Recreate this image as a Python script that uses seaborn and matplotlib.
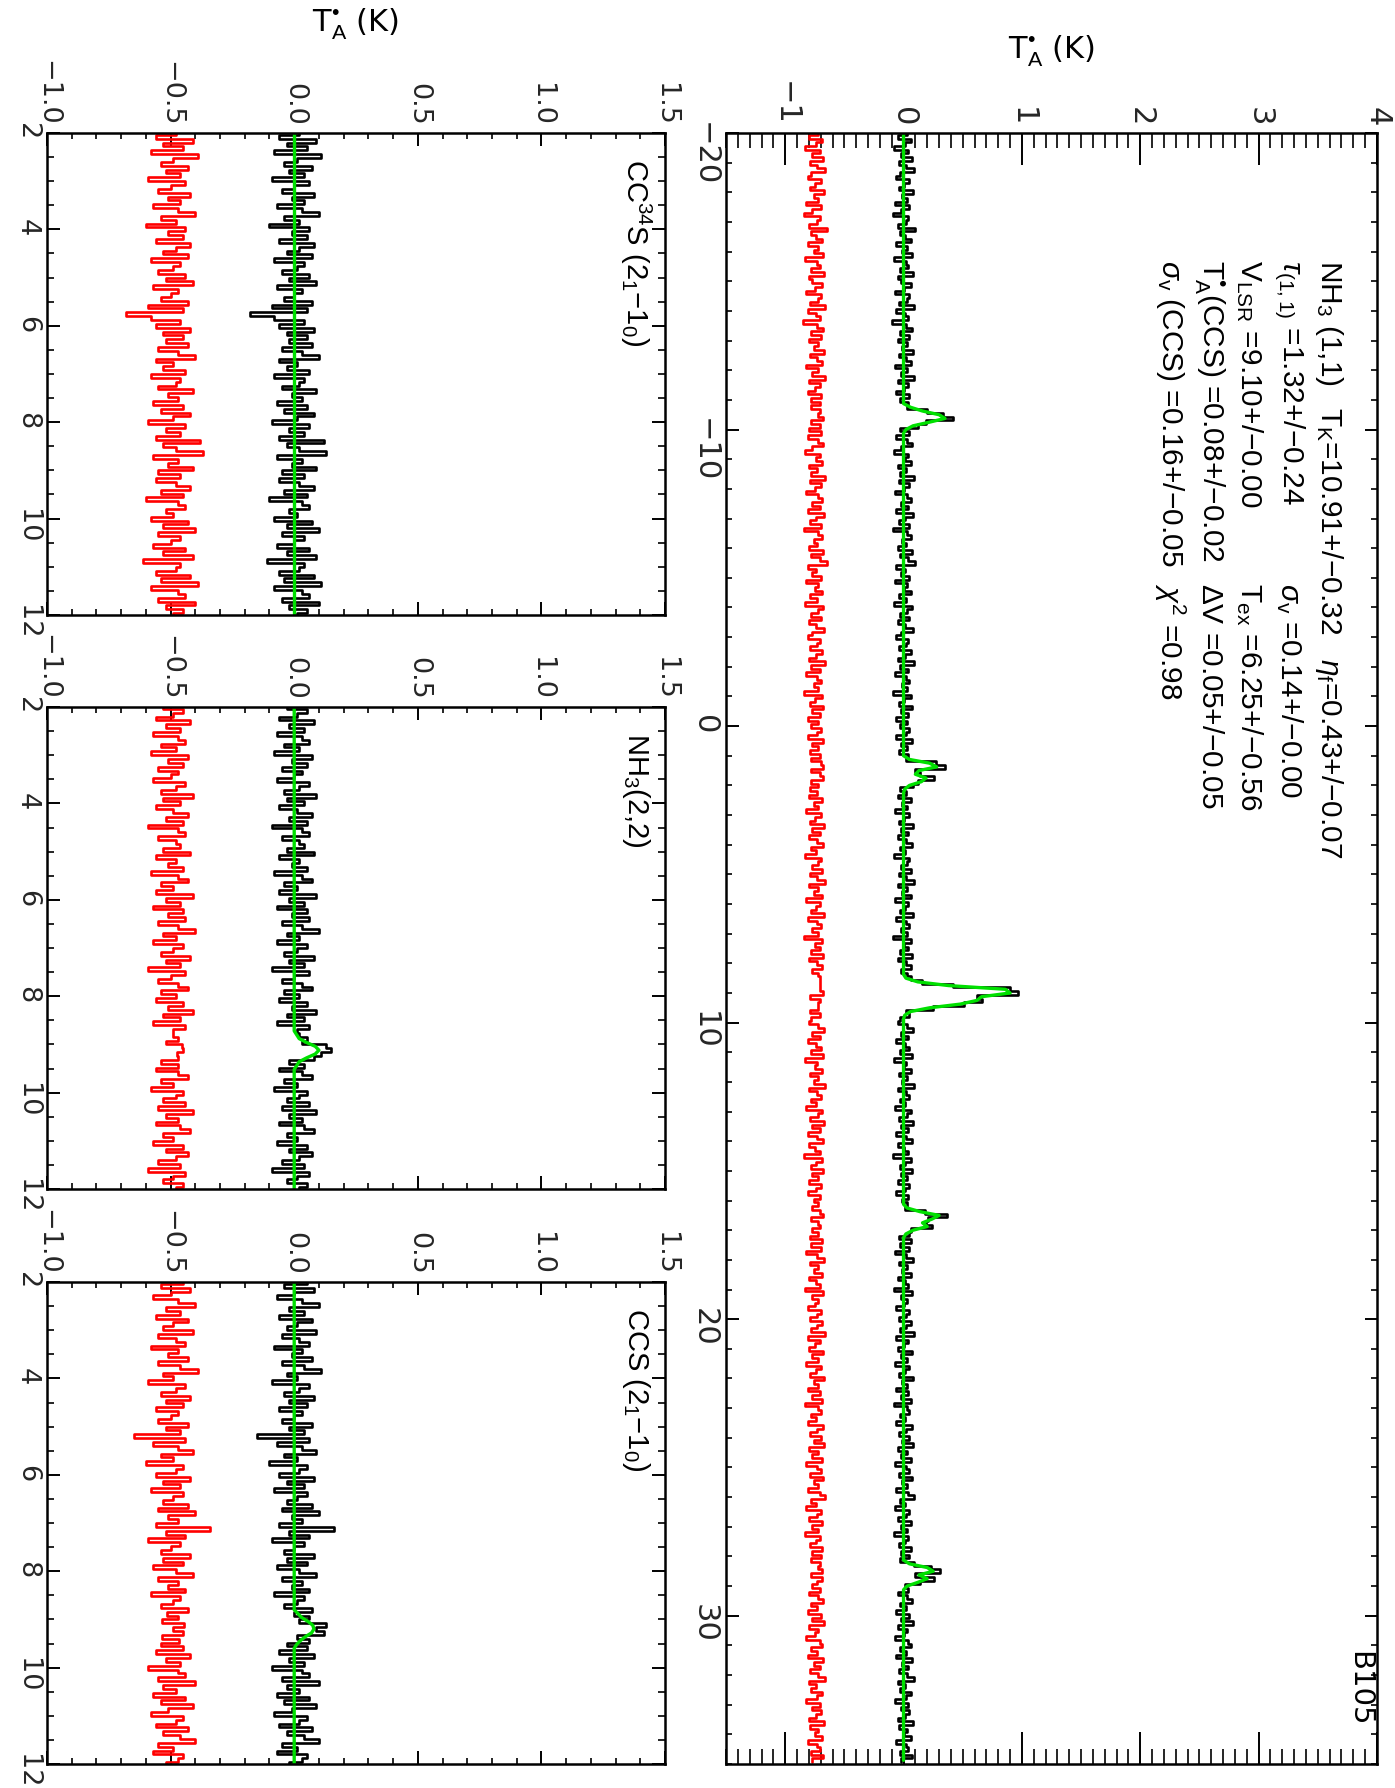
import numpy as np
import matplotlib
matplotlib.use("Agg")
import matplotlib.pyplot as plt
from matplotlib.ticker import MultipleLocator
import seaborn as sns

# ---------------- data ----------------
# NH3 (1,1) spectrum: channel grid and observed T_A* (K)
nh11_v_start = -20.0
nh11_dv = 0.125
nh11_obs_a = [
    0.03, -0.05, 0.06, 0.01, -0.08, 0.04, -0.02, 0.07, -0.04, 0.02, 0.09, -0.03, -0.06, 0.05, 0.00, -0.04, 0.08, -0.01, 0.03, -0.07,
    0.05, -0.02, -0.09, 0.04, 0.02, -0.05, 0.10, -0.03, 0.01, 0.06, -0.06, 0.03, -0.01, 0.07, -0.08, 0.02, 0.04, -0.03, 0.08, -0.05,
    -0.02, 0.06, 0.00, -0.07, 0.05, 0.03, -0.04, 0.09, -0.06, 0.01, 0.04, -0.10, 0.02, 0.07, -0.03, 0.05, -0.05, 0.03, -0.01, 0.08,
    -0.04, 0.02, 0.06, -0.07, 0.03, -0.02, 0.09, -0.05, 0.04, 0.00, -0.06, 0.05, -0.03, 0.04, 0.03, 0.20, 0.33, 0.42, 0.19, 0.12,
    -0.03, 0.05, -0.06, 0.03, 0.07, -0.02, -0.08, 0.04, 0.01, 0.06, -0.05, 0.02, -0.03, 0.09, -0.04, 0.05, 0.00, -0.07, 0.03, 0.06,
    -0.02, 0.04, -0.06, 0.08, 0.01, -0.04, 0.05, -0.09, 0.03, 0.06, -0.01, 0.02, -0.05, 0.07, -0.03, 0.04, 0.10, -0.06, 0.01, -0.02,
]
nh11_obs_b = [
    0.05, -0.07, 0.03, 0.00, 0.06, -0.04, 0.02, -0.08, 0.07, 0.03, -0.03, 0.05, -0.05, 0.01, 0.08, -0.02, -0.06, 0.04, 0.02, -0.04,
    0.06, 0.01, -0.05, 0.09, -0.03, 0.04, -0.07, 0.02, 0.05, -0.01, 0.03, -0.09, 0.06, 0.00, -0.04, 0.07, -0.02, 0.04, -0.06, 0.03,
    -0.03, 0.05, 0.02, -0.06, 0.07, -0.02, 0.03, -0.04, 0.04, 0.02, 0.27, 0.35, 0.10, 0.14, 0.26, 0.12, 0.08, -0.03, 0.02, -0.05,
    0.06, -0.01, 0.03, -0.07, 0.05, 0.00, -0.04, 0.08, -0.02, 0.04, -0.05, 0.02, 0.07, -0.03, 0.01, -0.08, 0.05, 0.03, -0.02, 0.06,
    -0.04, 0.02, 0.09, -0.05, 0.03, -0.01, 0.06, -0.07, 0.04, 0.01, -0.03, 0.08, -0.06, 0.02, 0.05, -0.02, 0.03, -0.09, 0.06, 0.00,
]
nh11_obs_c = [
    0.04, -0.03, 0.07, -0.05, 0.02, 0.06, -0.02, 0.03, 0.06, 0.16, 0.42, 0.90, 0.97, 0.62, 0.66, 0.51, 0.25, 0.02, 0.05, -0.03,
    -0.05, 0.03, 0.08, -0.02, 0.04, -0.06, 0.01, 0.05, -0.03, 0.07, -0.08, 0.02, 0.00, 0.06, -0.04, 0.03, -0.01, 0.09, -0.05, 0.02,
    0.05, -0.03, 0.01, -0.07, 0.06, 0.03, -0.04, 0.08, -0.02, 0.04, -0.06, 0.02, 0.07, -0.05, 0.00, 0.04, -0.09, 0.06, 0.01, -0.03,
    0.07, -0.02, 0.03, -0.05, 0.05, 0.01, -0.06, 0.04, -0.01, 0.03, 0.01, 0.18, 0.37, 0.21, 0.19, 0.24, 0.06, 0.05, -0.04, 0.06,
    -0.03, 0.05, -0.07, 0.02, 0.08, -0.04, 0.03, -0.01, 0.06, -0.05, 0.01, 0.04, -0.08, 0.07, -0.02, 0.03, 0.00, -0.06, 0.05, 0.02,
    -0.04, 0.06, 0.02, -0.03, 0.09, -0.06, 0.04, 0.00, -0.05, 0.07, -0.02, 0.03, -0.07, 0.05, 0.01, -0.04, 0.08, -0.01, 0.03, -0.06,
]
nh11_obs_d = [
    0.04, -0.02, 0.06, -0.08, 0.03, 0.05, -0.03, 0.01, -0.06, 0.07, 0.02, -0.04, 0.05, -0.01, 0.08, -0.05, 0.03, -0.02, 0.06, -0.07,
    0.02, 0.05, -0.04, 0.07, -0.01, 0.03, -0.06, 0.04, 0.09, -0.03, 0.01, -0.07, 0.05, 0.02, -0.05, 0.06, -0.02, 0.03, -0.08, 0.04,
    0.01, -0.04, 0.06, -0.02, 0.05, -0.03, 0.09, 0.23, 0.31, 0.10, 0.26, 0.14, 0.01, 0.04, -0.05, 0.03, 0.07, -0.03, 0.02, -0.06,
    0.05, -0.02, 0.08, -0.05, 0.03, 0.00, -0.07, 0.04, 0.06, -0.03, 0.02, -0.06, 0.07, -0.01, 0.04, -0.04, 0.03, 0.09, -0.05, 0.01,
    -0.03, 0.06, 0.02, -0.07, 0.04, -0.02, 0.05, 0.01, -0.05, 0.08, -0.04, 0.03, 0.00, 0.06, -0.06, 0.02, 0.04, -0.03, 0.07, -0.02,
]
# hyperfine fit (green), given channel by channel where it is non-zero
nh11_fit_starts = [-10.875, 1.0, 8.375, 16.125, 28.125]
nh11_fit_outer1 = [0.00, 0.06, 0.16, 0.30, 0.35, 0.22, 0.08, 0.02, 0.00]
nh11_fit_inner1 = [0.00, 0.05, 0.22, 0.28, 0.13, 0.10, 0.19, 0.15, 0.05, 0.01, 0.00]
nh11_fit_main = [0.00, 0.02, 0.12, 0.38, 0.86, 0.90, 0.66, 0.62, 0.48, 0.22, 0.06, 0.01, 0.00]
nh11_fit_inner2 = [0.00, 0.03, 0.14, 0.30, 0.24, 0.16, 0.20, 0.08, 0.02, 0.00]
nh11_fit_outer2 = [0.00, 0.05, 0.20, 0.25, 0.13, 0.20, 0.12, 0.03, 0.00]
nh11_resid_offset = -0.75

# small panels: common channel grid
small_v_start = 2.0
small_dv = 0.08
small_resid_offset = -0.5

cc34s_obs = [
    0.02, -0.06, 0.09, -0.03, 0.05, -0.08, 0.11, 0.01, -0.04, 0.07, -0.02, 0.04, -0.09, 0.06, 0.00, -0.05, 0.08, -0.01,
    0.04, -0.07, 0.03, 0.10, -0.04, 0.02, -0.10, 0.06, -0.01, 0.05, -0.06, 0.08, 0.02, -0.03, 0.07, -0.08, 0.04, 0.01,
    -0.05, 0.06, -0.02, 0.09, -0.07, 0.03, 0.00, -0.04, 0.07, -0.09, 0.05, -0.18, -0.08, 0.04, -0.06, 0.08, -0.03, 0.05,
    -0.02, 0.07, -0.05, 0.03, 0.10, -0.06, 0.01, -0.03, 0.06, -0.08, 0.04, 0.02, -0.05, 0.09, -0.01, 0.03, -0.07, 0.05,
    -0.04, 0.08, 0.01, -0.09, 0.06, -0.02, 0.04, -0.06, 0.12, -0.03, 0.02, 0.13, -0.07, 0.03, -0.01, 0.09, -0.05, 0.04,
    -0.06, 0.02, 0.08, -0.04, 0.05, -0.10, 0.03, 0.06, -0.02, 0.01, -0.08, 0.07, -0.03, 0.10, -0.05, 0.04, 0.00, -0.07,
    0.06, -0.03, 0.09, -0.11, 0.04, 0.02, -0.06, 0.08, -0.04, 0.11, -0.08, 0.03, 0.06, -0.05, 0.10, -0.02, 0.05, 0.01,
]
cc34s_fit_start = None
cc34s_fit = []

nh22_obs = [
    -0.03, 0.05, 0.01, -0.06, 0.08, -0.02, 0.04, -0.07, 0.03, 0.06, -0.04, 0.02, -0.08, 0.07, -0.01, 0.05, -0.05, 0.03,
    0.00, -0.07, 0.06, 0.02, -0.04, 0.09, -0.03, 0.04, -0.06, 0.01, 0.07, -0.02, 0.05, -0.09, 0.03, 0.06, -0.05, 0.02,
    0.04, -0.03, 0.08, -0.06, 0.02, -0.01, 0.05, -0.08, 0.03, 0.07, -0.04, 0.01, -0.06, 0.09, -0.02, 0.04, -0.07, 0.05,
    -0.01, 0.06, -0.05, 0.03, 0.10, -0.03, 0.02, -0.07, 0.05, 0.01, -0.04, 0.08, -0.02, 0.04, -0.09, 0.06, 0.00, -0.05,
    0.03, 0.07, -0.04, 0.02, -0.06, 0.05, -0.01, 0.09, -0.03, 0.04, -0.07, 0.06, 0.01, 0.02, 0.05, 0.03, 0.13, 0.15,
    0.11, 0.08, -0.02, 0.04, -0.06, 0.03, 0.07, -0.04, 0.01, -0.08, 0.05, 0.02, -0.03, 0.06, -0.05, 0.09, -0.02, 0.03,
    -0.06, 0.04, 0.08, -0.03, 0.01, -0.07, 0.05, -0.02, 0.07, 0.02, -0.05, 0.04, -0.09, 0.06, 0.01, -0.03, 0.05, 0.02,
]
nh22_fit_start = 8.80
nh22_fit = [0.01, 0.02, 0.05, 0.085, 0.10, 0.085, 0.05, 0.02, 0.01]

ccs_obs = [
    0.05, -0.04, 0.08, 0.00, -0.07, 0.03, 0.10, -0.02, 0.04, -0.06, 0.07, 0.01, -0.03, 0.09, -0.05, 0.02, 0.06, -0.08,
    0.03, -0.01, 0.07, -0.05, 0.04, 0.11, -0.03, 0.01, -0.09, 0.06, 0.02, -0.04, 0.08, -0.02, 0.05, -0.06, 0.03, 0.00,
    -0.05, 0.07, -0.02, 0.04, -0.15, 0.06, -0.07, 0.03, 0.09, -0.04, 0.01, -0.10, 0.05, 0.02, -0.06, 0.08, -0.03, 0.04,
    -0.08, 0.05, 0.01, -0.03, 0.07, -0.05, 0.10, -0.01, 0.03, -0.06, 0.16, -0.02, 0.06, -0.09, 0.04, 0.00, -0.04, 0.08,
    -0.03, 0.05, -0.07, 0.02, 0.09, -0.05, 0.03, -0.01, 0.06, -0.08, 0.04, 0.01, -0.04, 0.07, 0.00, 0.06, 0.02, 0.13,
    0.09, 0.12, 0.01, 0.06, -0.03, 0.05, -0.06, 0.08, -0.02, 0.04, -0.09, 0.03, 0.06, -0.05, 0.10, -0.03, 0.02, -0.07,
    0.06, -0.04, 0.09, -0.01, -0.08, 0.05, 0.02, -0.06, 0.07, -0.03, 0.04, 0.10, -0.05, 0.01, -0.07, 0.05, 0.03, -0.02,
]
ccs_fit_start = 8.88
ccs_fit = [0.015, 0.03, 0.055, 0.075, 0.08, 0.07, 0.045, 0.025, 0.01]

small_labels = [r"CC$^{34}$S (2$_{1}$−1$_{0}$)", r"NH$_{3}$(2,2)", r"CCS (2$_{1}$−1$_{0}$)"]
fit_text_lines = [
    [r"NH$_{3}$ (1,1)", r"T$_{\rm K}$=10.91+/−0.32", r"$\eta_{\rm f}$=0.43+/−0.07"],
    [r"$\tau_{\rm (1,1)}$ =1.32+/−0.24", r"$\sigma_{\rm v}$ =0.14+/−0.00"],
    [r"V$_{\rm LSR}$ =9.10+/−0.00", r"T$_{\rm ex}$ =6.25+/−0.56"],
    [r"T$_{\rm A}^{\rm •}$(CCS) =0.08+/−0.02", r"$\Delta$V =0.05+/−0.05"],
    [r"$\sigma_{\rm v}$ (CCS) =0.16+/−0.05", r"$\chi^{2}$ =0.98"],
]
source_name = "B105"
y_label = r"T$_{\rm A}^{\rm •}$ (K)"

# ---------------- style ----------------
sns.set_theme(style="ticks")
plt.rcParams["font.family"] = ["DejaVu Sans"]
plt.rcParams["mathtext.fontset"] = "custom"
plt.rcParams["mathtext.rm"] = "Liberation Sans"
plt.rcParams["mathtext.it"] = "Liberation Sans:italic"
plt.rcParams["mathtext.bf"] = "Liberation Sans:bold"
plt.rcParams["axes.linewidth"] = 1.8
plt.rcParams["axes.edgecolor"] = "black"

W, H = 1395, 1788
fig = plt.figure(figsize=(W / 100, H / 100), dpi=100)
fig.patch.set_facecolor("white")


def add_axes_px(left, top, right, bottom):
    return fig.add_axes([left / W, 1 - bottom / H, (right - left) / W, (bottom - top) / H])


def build_fit(n, v_start, dv, starts, pieces):
    fit = np.zeros(n)
    for s, vals in zip(starts, pieces):
        i0 = int(round((s - v_start) / dv))
        fit[i0:i0 + len(vals)] = vals
    return fit


def draw_spectrum(ax, v_start, dv, obs, fit, offset):
    obs = np.asarray(obs, float)
    v = v_start + dv * np.arange(len(obs))
    v_edges = np.column_stack([v - dv / 2, v + dv / 2]).ravel()
    resid = obs - fit + offset
    sns.lineplot(x=np.repeat(obs, 2), y=v_edges, orient="y", sort=False, estimator=None,
                 errorbar=None, color="black", linewidth=1.9, ax=ax)
    sns.lineplot(x=np.repeat(resid, 2), y=v_edges, orient="y", sort=False, estimator=None,
                 errorbar=None, color="#ff0000", linewidth=1.9, ax=ax)
    sns.lineplot(x=fit, y=v, orient="y", sort=False, estimator=None,
                 errorbar=None, color="#00e000", linewidth=2.4, ax=ax)
    ax.set_xlabel("")
    ax.set_ylabel("")


def style_axes(ax, xmaj, xmin, ymaj, ymin, xlen, ylen, lsize):
    ax.xaxis.set_major_locator(MultipleLocator(xmaj))
    ax.xaxis.set_minor_locator(MultipleLocator(xmin))
    ax.yaxis.set_major_locator(MultipleLocator(ymaj))
    ax.yaxis.set_minor_locator(MultipleLocator(ymin))
    ax.tick_params(axis="x", which="both", direction="in", top=True, bottom=True,
                   labeltop=True, labelbottom=False, color="black")
    ax.tick_params(axis="x", which="major", length=xlen[0], width=1.4, pad=5,
                   labelsize=lsize, labelrotation=-90)
    ax.tick_params(axis="x", which="minor", length=xlen[1], width=1.2)
    ax.tick_params(axis="y", which="both", direction="in", left=True, right=True,
                   labelleft=True, labelright=False, color="black")
    ax.tick_params(axis="y", which="major", length=ylen[0], width=1.4, pad=5,
                   labelsize=lsize, labelrotation=-90)
    ax.tick_params(axis="y", which="minor", length=ylen[1], width=1.2)
    for sp in ax.spines.values():
        sp.set_visible(True)
        sp.set_linewidth(1.8)
        sp.set_color("black")
    ax.set_facecolor("white")
    ax.grid(False)


# ---------------- main NH3(1,1) panel ----------------
TOP, BOTTOM = 133, 1764
ax_main = add_axes_px(726, TOP, 1377, BOTTOM)
nh11_obs = nh11_obs_a + nh11_obs_b + nh11_obs_c + nh11_obs_d
nh11_fit = build_fit(len(nh11_obs), nh11_v_start, nh11_dv, nh11_fit_starts,
                     [nh11_fit_outer1, nh11_fit_inner1, nh11_fit_main, nh11_fit_inner2, nh11_fit_outer2])
draw_spectrum(ax_main, nh11_v_start, nh11_dv, nh11_obs, nh11_fit, nh11_resid_offset)
ax_main.set_xlim(-1.5, 4.0)
ax_main.set_ylim(35, -20)
style_axes(ax_main, 1, 0.1, 10, 1, (23, 11), (9, 4.5), 22)

col_x = [0.927, 0.865, 0.804, 0.743, 0.682]
col_y = [[0.922, 0.832, 0.678], [0.922, 0.724], [0.922, 0.724], [0.922, 0.724], [0.922, 0.724]]
for xline, ys, texts in zip(col_x, col_y, fit_text_lines):
    for yy, tt in zip(ys, texts):
        ax_main.text(xline, yy, tt, transform=ax_main.transAxes, rotation=-90,
                     rotation_mode="anchor", ha="left", va="center", fontsize=21.5,
                     family=["Liberation Sans", "DejaVu Sans"], color="black")
ax_main.text(0.972, 0.023, source_name, transform=ax_main.transAxes, rotation=-90,
             rotation_mode="anchor", ha="right", va="center", fontsize=21, color="black")

# ---------------- three small panels ----------------
small_h = 482
small_tops = [TOP, TOP + 574, TOP + 1149]
small_data = [(cc34s_obs, cc34s_fit_start, cc34s_fit),
              (nh22_obs, nh22_fit_start, nh22_fit),
              (ccs_obs, ccs_fit_start, ccs_fit)]
for top, (obs, fstart, fvals), lab in zip(small_tops, small_data, small_labels):
    ax = add_axes_px(47, top, 665, top + small_h)
    starts = [fstart] if fstart is not None else []
    pieces = [fvals] if fstart is not None else []
    fit = build_fit(len(obs), small_v_start, small_dv, starts, pieces)
    draw_spectrum(ax, small_v_start, small_dv, obs, fit, small_resid_offset)
    ax.set_xlim(-1.0, 1.5)
    ax.set_ylim(12, 2)
    style_axes(ax, 0.5, 0.1, 2, 0.5, (9.5, 4.5), (9.5, 5), 19.5)
    ax.text(0.953, 0.947, lab, transform=ax.transAxes, rotation=-90, rotation_mode="anchor",
            ha="left", va="center", fontsize=21, family=["Liberation Sans", "DejaVu Sans"],
            color="black")

# axis labels (horizontal, above each column)
fig.text(356 / W, 1 - 24 / H, y_label, ha="center", va="center", fontsize=22, color="black")
fig.text(1052 / W, 1 - 51 / H, y_label, ha="center", va="center", fontsize=22, color="black")

fig.savefig("out.png", dpi=100, facecolor="white")
